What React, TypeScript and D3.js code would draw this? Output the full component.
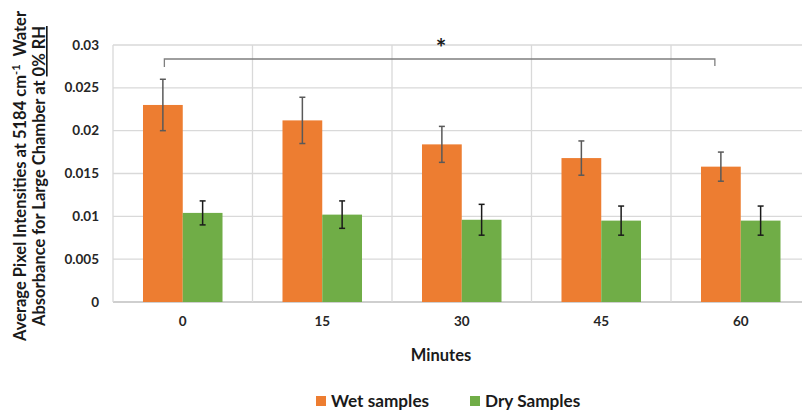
import React from "react";
import * as d3 from "d3";

const categories = ["0", "15", "30", "45", "60"];
const wetValues = [0.0230, 0.0212, 0.0184, 0.0168, 0.0158];
const wetErrors = [0.0030, 0.0027, 0.0021, 0.0020, 0.0017];
const dryValues = [0.0104, 0.0102, 0.0096, 0.0095, 0.0095];
const dryErrors = [0.0014, 0.0016, 0.0018, 0.0017, 0.0017];
const yTicks = [0, 0.005, 0.01, 0.015, 0.02, 0.025, 0.03];
const yTickLabels = ["0", "0.005", "0.01", "0.015", "0.02", "0.025", "0.03"];
const seriesNames = ["Wet samples", "Dry Samples"];
const seriesColors = ["#ED7D31", "#70AD47"];
const errColors = ["#595959", "#1a1a1a"];

const W = 802;
const H = 412;
const FONT = "Lato, 'Open Sans', sans-serif";

export default function App() {
  const left = 113;
  const top = 45;
  const bottom = 302;
  const bandW = 139.5;
  const right = left + bandW * categories.length;

  const x = d3.scaleBand<string>().domain(categories).range([left, right]).padding(0);
  const y = d3.scaleLinear().domain([0, 0.03]).range([bottom, top]);
  const barW = x.bandwidth() * 0.285;

  const series = [
    { vals: wetValues, errs: wetErrors },
    { vals: dryValues, errs: dryErrors },
  ];

  const centerOf = (c: string) => (x(c) as number) + x.bandwidth() / 2;
  const barX = (c: string, s: number) => centerOf(c) - barW + s * barW;

  const bracketY = 59;
  const bx1 = barX(categories[0], 0) + barW / 2 + 1.5;
  const bx2 = barX(categories[4], 0) + barW / 2 - 6;

  return (
    <svg width={W} height={H} style={{ position: "absolute", left: 0, top: 0, background: "#fff" }} fontFamily={FONT}>
      <rect width={W} height={H} fill="#fff" />
      {/* horizontal gridlines */}
      {yTicks.map((t, i) => (
        <line key={"h" + i} x1={left} x2={W} y1={y(t)} y2={y(t)} stroke={i === 0 ? "#bfbfbf" : "#d9d9d9"} strokeWidth={1.3} />
      ))}
      {/* vertical gridlines */}
      {categories.map((c, i) => (
        <line key={"v" + i} x1={x(c) as number} x2={x(c) as number} y1={top} y2={bottom} stroke="#d9d9d9" strokeWidth={1.3} />
      ))}
      {/* bars */}
      {series.map((s, si) =>
        categories.map((c, i) => (
          <rect key={"b" + si + i} x={barX(c, si)} y={y(s.vals[i])} width={barW} height={bottom - y(s.vals[i])} fill={seriesColors[si]} />
        ))
      )}
      {/* error bars */}
      {series.map((s, si) =>
        categories.map((c, i) => {
          const cx = barX(c, si) + barW / 2;
          const y1 = y(s.vals[i] + s.errs[i]);
          const y2 = y(s.vals[i] - s.errs[i]);
          return (
            <g key={"e" + si + i} stroke={errColors[si]} strokeWidth={1.5}>
              <line x1={cx} x2={cx} y1={y1} y2={y2} />
              <line x1={cx - 3} x2={cx + 3} y1={y1} y2={y1} />
              <line x1={cx - 3} x2={cx + 3} y1={y2} y2={y2} />
            </g>
          );
        })
      )}
      {/* significance bracket */}
      <path d={`M${bx1},${bracketY + 8} V${bracketY} H${bx2} V${bracketY + 7}`} fill="none" stroke="#7f7f7f" strokeWidth={1.3} />
      <text x={441} y={57} textAnchor="middle" fontSize={25} fontWeight={700} fill="#1a1a1a">*</text>
      {/* y tick labels */}
      {yTicks.map((t, i) => (
        <text key={"yt" + i} x={99} y={y(t) + 4.5} textAnchor="end" fontSize={13.5} fontWeight={700} fill="#262626">{yTickLabels[i]}</text>
      ))}
      {/* x tick labels */}
      {categories.map((c, i) => (
        <text key={"xt" + i} x={centerOf(c)} y={326} textAnchor="middle" fontSize={13.5} fontWeight={700} fill="#262626">{c}</text>
      ))}
      {/* x axis title */}
      <text x={441} y={361} textAnchor="middle" fontSize={16.5} fontWeight={700} fill="#1a1a1a">Minutes</text>
      {/* y axis title */}
      <text transform="translate(26,176) rotate(-90)" textAnchor="middle" fontSize={16.5} fontWeight={700} fill="#1a1a1a">
        Average Pixel Intensities at 5184 cm<tspan dy={-6} fontSize={11}>-1</tspan><tspan dy={6}>{"\u00a0 Water"}</tspan>
      </text>
      <text transform="translate(45,176) rotate(-90)" textAnchor="middle" fontSize={16.5} fontWeight={700} fill="#1a1a1a">
        Absorbance for Large Chamber at <tspan textDecoration="underline">0% RH</tspan>
      </text>
      {/* legend */}
      {seriesNames.map((n, i) => {
        const lx = [316, 470][i];
        return (
          <g key={"lg" + i}>
            <rect x={lx} y={396} width={10} height={10} fill={seriesColors[i]} />
            <text x={lx + 15} y={407} fontSize={17.2} fontWeight={700} fill="#1a1a1a">{n}</text>
          </g>
        );
      })}
    </svg>
  );
}
